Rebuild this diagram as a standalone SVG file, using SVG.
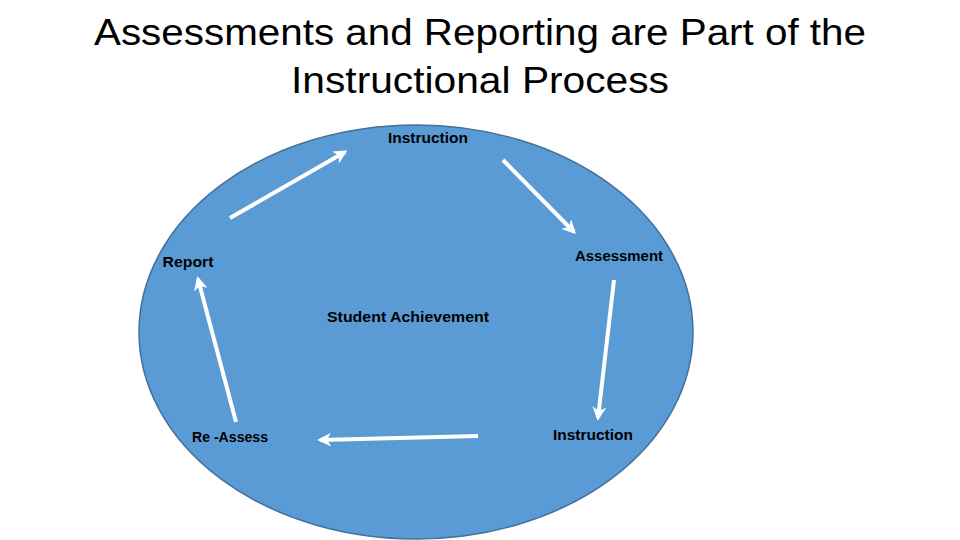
<svg xmlns="http://www.w3.org/2000/svg" width="960" height="540" viewBox="0 0 960 540">
<defs>
<style>
.title{font-family:"Liberation Sans",Arial,sans-serif;font-size:36px;fill:#000}
.lbl{font-family:"Liberation Sans",Arial,sans-serif;font-size:14px;font-weight:bold;fill:#000}
.arr{stroke:#fff;stroke-width:4;fill:none;marker-end:url(#ah)}
</style>
<marker id="ah" viewBox="0 0 10 10" refX="8" refY="5" markerWidth="3.5" markerHeight="3.5" orient="auto" markerUnits="strokeWidth">
<path d="M0,0 L10,5 L0,10 L3,5 z" fill="#fff"/>
</marker>
</defs>
<rect width="960" height="540" fill="#fff"/>
<g id="title">
<text class="title" x="480" y="45" text-anchor="middle" textLength="772" lengthAdjust="spacingAndGlyphs">Assessments and Reporting are Part of the</text>
<text class="title" x="480" y="93" text-anchor="middle" textLength="378" lengthAdjust="spacingAndGlyphs">Instructional Process</text>
</g>
<g id="circle">
<ellipse cx="416" cy="332" rx="277" ry="207" fill="#5B9BD5" stroke="#41719C" stroke-width="1.5"/>
</g>
<g id="connectors">
<line class="arr" x1="230" y1="218" x2="345" y2="152"/>
<line class="arr" x1="503" y1="160" x2="574" y2="232"/>
<line class="arr" x1="614" y1="280" x2="598" y2="418"/>
<line class="arr" x1="478" y1="436" x2="320" y2="440"/>
<line class="arr" x1="236" y1="422" x2="198" y2="279"/>
</g>
<g id="n-instruction-top"><text class="lbl" x="428" y="143" text-anchor="middle" textLength="80" lengthAdjust="spacingAndGlyphs">Instruction</text></g>
<g id="n-assessment"><text class="lbl" x="619" y="261" text-anchor="middle" textLength="88" lengthAdjust="spacingAndGlyphs">Assessment</text></g>
<g id="n-report"><text class="lbl" x="188" y="267" text-anchor="middle" textLength="51" lengthAdjust="spacingAndGlyphs">Report</text></g>
<g id="n-student"><text class="lbl" x="408" y="322" text-anchor="middle" textLength="162" lengthAdjust="spacingAndGlyphs">Student Achievement</text></g>
<g id="n-reassess"><text class="lbl" x="230" y="442" text-anchor="middle" textLength="76" lengthAdjust="spacingAndGlyphs">Re -Assess</text></g>
<g id="n-instruction-bottom"><text class="lbl" x="593" y="440" text-anchor="middle" textLength="80" lengthAdjust="spacingAndGlyphs">Instruction</text></g>
</svg>
